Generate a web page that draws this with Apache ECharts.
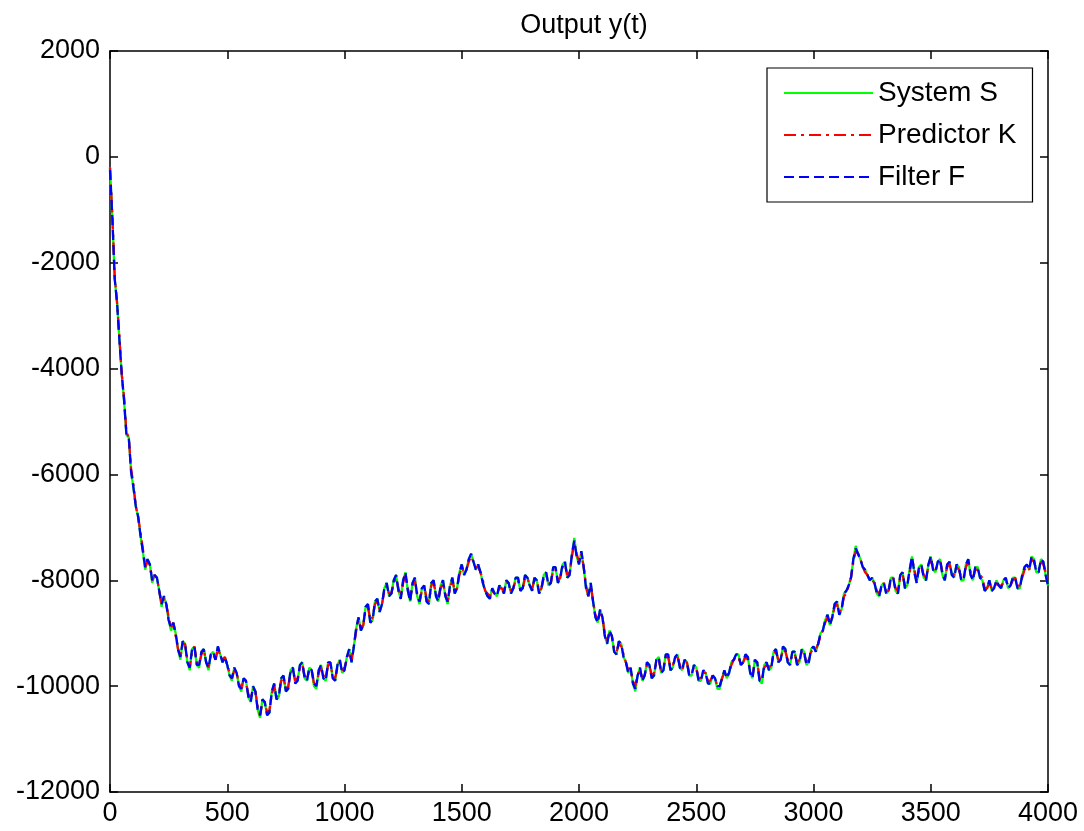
<!DOCTYPE html>
<html>
<head>
<meta charset="utf-8">
<title>Output y(t)</title>
<script src="https://cdn.jsdelivr.net/npm/echarts@6/dist/echarts.min.js"></script>
<style>
    html, body {margin: 0; padding: 0; background: #fff;}
    #chart {width: 1084px; height: 831px;}
</style>
</head>
<body>
<div id="chart"></div>
<script>
'use strict';

// sample spacing of the traces (time units), one row = 200 time units
var timeStep = 10;

var seriesNames = ['System S', 'Predictor K', 'Filter F'];

var systemS = [
    -200, -1150, -2300, -2750, -3450, -4100, -4600, -5250, -5300, -5950, -6250, -6600, -6800, -7150, -7450, -7800, -7600, -7700, -8050, -7900,
    -7950, -8200, -8500, -8300, -8450, -8750, -8950, -8800, -9000, -9300, -9500, -9150, -9200, -9550, -9700, -9300, -9250, -9600, -9650, -9350,
    -9300, -9550, -9700, -9400, -9350, -9500, -9250, -9400, -9550, -9450, -9600, -9800, -9900, -9650, -9750, -10000, -10100, -9850, -9900, -10200,
    -10300, -10000, -10100, -10450, -10600, -10250, -10300, -10550, -10500, -10100, -9950, -10250, -10200, -9850, -9800, -10100, -10050, -9700, -9650, -9950,
    -9900, -9600, -9550, -9850, -9900, -9650, -9700, -10000, -10050, -9700, -9600, -9850, -9900, -9550, -9550, -9850, -9900, -9600, -9500, -9750,
    -9700, -9450, -9300, -9550, -9250, -8900, -8700, -8950, -8850, -8500, -8450, -8800, -8750, -8400, -8350, -8600, -8450, -8150, -8050, -8300,
    -8250, -8000, -7900, -8200, -8350, -8000, -7850, -8200, -8400, -8050, -7950, -8300, -8450, -8150, -8100, -8400, -8450, -8050, -8000, -8300,
    -8400, -8100, -8000, -8300, -8450, -8100, -7950, -8250, -8150, -7850, -7700, -7900, -7800, -7600, -7500, -7650, -7800, -7700, -7850, -8050,
    -8200, -8300, -8350, -8150, -8250, -8300, -8100, -8150, -8250, -8000, -8050, -8250, -8150, -7950, -7950, -8200, -8150, -7900, -7950, -8100,
    -8200, -7950, -8000, -8250, -8150, -7900, -7850, -8100, -8050, -7750, -7750, -8050, -7950, -7700, -7650, -7950, -7900, -7500, -7200, -7550,
    -7700, -7450, -7750, -8150, -8300, -8050, -8400, -8700, -8800, -8550, -8700, -9050, -9200, -8950, -9050, -9350, -9400, -9150, -9200, -9450,
    -9550, -9750, -9650, -9950, -10100, -9800, -9650, -9900, -9800, -9550, -9600, -9850, -9800, -9500, -9450, -9750, -9700, -9400, -9400, -9700,
    -9650, -9450, -9400, -9650, -9700, -9500, -9550, -9800, -9800, -9600, -9650, -9900, -9900, -9700, -9750, -9950, -9950, -9800, -9850, -10050,
    -10050, -9850, -9700, -9850, -9750, -9550, -9500, -9400, -9400, -9600, -9550, -9400, -9450, -9750, -9850, -9500, -9550, -9900, -9950, -9600,
    -9550, -9700, -9650, -9350, -9300, -9550, -9500, -9250, -9300, -9550, -9600, -9350, -9350, -9600, -9550, -9300, -9350, -9600, -9550, -9300,
    -9250, -9350, -9200, -9000, -8950, -8750, -8650, -8850, -8700, -8450, -8400, -8650, -8550, -8250, -8200, -8100, -7950, -7600, -7350, -7500,
    -7600, -7750, -7800, -7900, -8000, -7950, -8050, -8250, -8300, -8100, -8050, -8250, -8200, -7950, -7950, -8200, -8250, -7900, -7850, -8150,
    -8100, -7800, -7550, -7850, -8050, -7750, -7700, -7950, -8000, -7700, -7550, -7800, -7850, -7650, -7600, -7900, -8000, -7700, -7650, -7900,
    -7950, -7700, -7750, -8000, -8000, -7700, -7600, -7900, -8000, -7750, -7750, -7950, -8000, -8200, -8150, -8000, -8200, -8150, -8000, -8100,
    -8150, -8000, -7950, -8150, -8100, -7950, -7950, -8150, -8150, -7900, -7750, -7700, -7800, -7550, -7600, -7850, -7850, -7600, -7650, -7900,
    -8100
];

var predictorK = [
    -200, -1100, -2250, -2750, -3400, -4100, -4550, -5200, -5300, -5900, -6200, -6600, -6800, -7100, -7400, -7750, -7650, -7700, -8000, -7900,
    -7950, -8200, -8450, -8350, -8450, -8700, -8900, -8800, -9050, -9300, -9450, -9200, -9200, -9500, -9650, -9350, -9250, -9550, -9600, -9400,
    -9300, -9550, -9650, -9400, -9400, -9500, -9300, -9400, -9500, -9450, -9600, -9750, -9850, -9700, -9750, -9950, -10050, -9850, -9950, -10150,
    -10250, -10050, -10100, -10400, -10550, -10300, -10300, -10500, -10450, -10150, -10000, -10200, -10150, -9900, -9850, -10050, -10000, -9750, -9700, -9900,
    -9850, -9650, -9600, -9800, -9850, -9700, -9700, -9950, -10000, -9750, -9650, -9800, -9850, -9600, -9600, -9800, -9850, -9650, -9550, -9700,
    -9650, -9500, -9350, -9500, -9250, -8950, -8750, -8900, -8850, -8550, -8500, -8750, -8700, -8450, -8400, -8550, -8450, -8200, -8100, -8250,
    -8250, -8050, -7950, -8150, -8300, -8050, -7900, -8150, -8350, -8100, -8000, -8250, -8400, -8200, -8100, -8350, -8400, -8100, -8050, -8250,
    -8350, -8150, -8050, -8250, -8400, -8150, -8000, -8200, -8150, -7900, -7750, -7850, -7800, -7650, -7550, -7650, -7750, -7750, -7850, -8000,
    -8200, -8250, -8300, -8200, -8250, -8250, -8150, -8150, -8200, -8050, -8050, -8200, -8150, -8000, -8000, -8150, -8150, -7950, -7950, -8100,
    -8150, -8000, -8000, -8200, -8150, -7950, -7900, -8050, -8050, -7800, -7800, -8000, -7950, -7750, -7700, -7900, -7850, -7550, -7300, -7500,
    -7650, -7500, -7750, -8100, -8300, -8100, -8400, -8650, -8750, -8600, -8700, -9000, -9150, -9000, -9050, -9300, -9350, -9200, -9250, -9400,
    -9550, -9700, -9700, -9900, -10000, -9800, -9700, -9850, -9800, -9600, -9600, -9800, -9750, -9550, -9500, -9700, -9650, -9450, -9450, -9650,
    -9600, -9500, -9450, -9600, -9700, -9550, -9550, -9750, -9750, -9650, -9650, -9850, -9850, -9750, -9750, -9900, -9900, -9800, -9850, -10000,
    -10000, -9850, -9750, -9800, -9750, -9600, -9500, -9450, -9450, -9600, -9550, -9450, -9500, -9700, -9800, -9550, -9550, -9850, -9900, -9650,
    -9600, -9650, -9600, -9400, -9350, -9500, -9500, -9300, -9350, -9500, -9550, -9400, -9400, -9550, -9500, -9350, -9400, -9550, -9500, -9350,
    -9300, -9300, -9200, -9050, -8950, -8800, -8700, -8800, -8700, -8500, -8450, -8600, -8550, -8300, -8250, -8100, -7950, -7650, -7450, -7500,
    -7600, -7750, -7850, -7900, -8000, -8000, -8050, -8200, -8250, -8150, -8050, -8200, -8200, -8000, -7950, -8150, -8200, -7950, -7900, -8100,
    -8050, -7850, -7600, -7800, -8000, -7800, -7750, -7900, -7950, -7750, -7600, -7750, -7800, -7700, -7650, -7850, -7950, -7750, -7700, -7850,
    -7900, -7750, -7800, -7950, -7950, -7750, -7650, -7850, -7950, -7800, -7800, -7900, -7950, -8150, -8150, -8050, -8150, -8150, -8050, -8100,
    -8100, -8050, -8000, -8100, -8100, -8000, -7950, -8100, -8100, -7950, -7800, -7750, -7800, -7600, -7650, -7800, -7800, -7650, -7700, -7850,
    -8050
];

var filterF = [
    -250, -1150, -2300, -2750, -3450, -4100, -4600, -5250, -5300, -5950, -6250, -6600, -6800, -7150, -7450, -7750, -7600, -7700, -8000, -7900,
    -7950, -8200, -8450, -8300, -8450, -8750, -8900, -8800, -9000, -9300, -9450, -9150, -9200, -9550, -9650, -9300, -9250, -9600, -9600, -9350,
    -9300, -9550, -9650, -9400, -9350, -9500, -9250, -9400, -9550, -9450, -9600, -9800, -9850, -9650, -9750, -10000, -10050, -9850, -9900, -10200,
    -10300, -10000, -10100, -10450, -10550, -10250, -10300, -10550, -10500, -10100, -9950, -10250, -10200, -9850, -9800, -10100, -10050, -9700, -9650, -9950,
    -9900, -9600, -9550, -9850, -9900, -9650, -9700, -9950, -10000, -9700, -9600, -9850, -9900, -9550, -9550, -9850, -9900, -9600, -9500, -9750,
    -9700, -9450, -9300, -9550, -9250, -8900, -8700, -8950, -8850, -8500, -8450, -8800, -8750, -8400, -8350, -8600, -8450, -8150, -8050, -8300,
    -8250, -8000, -7900, -8200, -8350, -8000, -7850, -8200, -8400, -8050, -7950, -8300, -8400, -8150, -8100, -8400, -8450, -8050, -8000, -8300,
    -8400, -8100, -8000, -8300, -8400, -8100, -7950, -8250, -8150, -7850, -7700, -7900, -7800, -7600, -7500, -7650, -7800, -7700, -7850, -8050,
    -8200, -8300, -8350, -8150, -8250, -8300, -8100, -8150, -8250, -8000, -8050, -8250, -8150, -7950, -7950, -8200, -8150, -7900, -7950, -8100,
    -8200, -7950, -8000, -8250, -8150, -7900, -7850, -8100, -8050, -7750, -7750, -8050, -7950, -7700, -7650, -7950, -7900, -7500, -7250, -7550,
    -7700, -7450, -7750, -8150, -8300, -8050, -8400, -8700, -8800, -8550, -8700, -9050, -9200, -8950, -9050, -9350, -9400, -9150, -9200, -9450,
    -9550, -9750, -9650, -9950, -10050, -9800, -9650, -9900, -9800, -9550, -9600, -9850, -9800, -9500, -9450, -9750, -9700, -9400, -9400, -9700,
    -9650, -9450, -9400, -9650, -9700, -9500, -9550, -9800, -9800, -9600, -9650, -9900, -9900, -9700, -9750, -9950, -9950, -9800, -9850, -10000,
    -10000, -9850, -9700, -9850, -9750, -9550, -9500, -9400, -9400, -9600, -9550, -9400, -9450, -9750, -9850, -9500, -9550, -9900, -9900, -9600,
    -9550, -9700, -9650, -9350, -9300, -9550, -9500, -9250, -9300, -9550, -9600, -9350, -9350, -9600, -9550, -9300, -9350, -9600, -9550, -9300,
    -9250, -9350, -9200, -9000, -8950, -8750, -8650, -8850, -8700, -8450, -8400, -8650, -8550, -8250, -8200, -8100, -7950, -7600, -7400, -7500,
    -7600, -7750, -7800, -7900, -8000, -7950, -8050, -8250, -8300, -8100, -8050, -8250, -8200, -7950, -7950, -8200, -8250, -7900, -7850, -8150,
    -8100, -7800, -7550, -7850, -8050, -7750, -7700, -7950, -8000, -7700, -7550, -7800, -7850, -7650, -7600, -7900, -8000, -7700, -7650, -7900,
    -7950, -7700, -7750, -8000, -8000, -7700, -7600, -7900, -8000, -7750, -7750, -7950, -8000, -8200, -8150, -8000, -8200, -8150, -8000, -8100,
    -8150, -8000, -7950, -8150, -8100, -7950, -7950, -8150, -8150, -7900, -7750, -7700, -7800, -7550, -7600, -7850, -7850, -7600, -7650, -7900,
    -8100
];

var xTicks = {min: 0, max: 4000, interval: 500};
var yTicks = {min: -12000, max: 2000, interval: 2000};

function toPairs(values) {
    return values.map(function (v, i) {
        return [i * timeStep, v];
    });
}

function plainNumber(v) {
    return String(v);
}

var font = 'Liberation Sans, Arial, Helvetica, sans-serif';

var boxAxis = {
    axisLine: {show: true, onZero: false, lineStyle: {color: '#000', width: 1.5}},
    axisTick: {show: true, inside: true, length: 8, lineStyle: {color: '#000', width: 1.5}},
    splitLine: {show: false}
};

var option = {
    backgroundColor: '#fff',
    animation: false,
    textStyle: {fontFamily: font},
    title: {
        text: 'Output y(t)',
        left: 579,
        textAlign: 'center',
        top: 7,
        textStyle: {fontFamily: font, fontSize: 27, fontWeight: 'normal', color: '#000'}
    },
    legend: {
        orient: 'vertical',
        left: 767,
        top: 68,
        data: seriesNames,
        itemWidth: 89,
        itemHeight: 14,
        itemGap: 14,
        padding: [11, 16, 11, 16],
        borderColor: '#000',
        borderWidth: 1.2,
        backgroundColor: '#fff',
        itemStyle: {opacity: 0},
        textStyle: {fontFamily: font, fontSize: 28, lineHeight: 26, color: '#000'}
    },
    grid: {left: 110, right: 36, top: 51, bottom: 39, containLabel: false},
    xAxis: [
        Object.assign({
            type: 'value',
            position: 'bottom',
            min: xTicks.min,
            max: xTicks.max,
            interval: xTicks.interval,
            axisLabel: {fontFamily: font, fontSize: 27, color: '#000', margin: 8, formatter: plainNumber}
        }, boxAxis),
        Object.assign({
            type: 'value',
            position: 'top',
            min: xTicks.min,
            max: xTicks.max,
            interval: xTicks.interval,
            axisLabel: {show: false}
        }, boxAxis)
    ],
    yAxis: [
        Object.assign({
            type: 'value',
            position: 'left',
            min: yTicks.min,
            max: yTicks.max,
            interval: yTicks.interval,
            axisLabel: {fontFamily: font, fontSize: 27, color: '#000', margin: 10, formatter: plainNumber}
        }, boxAxis),
        Object.assign({
            type: 'value',
            position: 'right',
            min: yTicks.min,
            max: yTicks.max,
            interval: yTicks.interval,
            axisLabel: {show: false}
        }, boxAxis)
    ],
    series: [
        {
            name: seriesNames[0],
            type: 'line',
            data: toPairs(systemS),
            showSymbol: false,
            symbol: 'none',
            color: '#00ff00',
            lineStyle: {color: '#00ff00', width: 2.3}
        },
        {
            name: seriesNames[1],
            type: 'line',
            data: toPairs(predictorK),
            showSymbol: false,
            symbol: 'none',
            color: '#ff0000',
            lineStyle: {color: '#ff0000', width: 2.3, type: [12, 5, 3, 5]}
        },
        {
            name: seriesNames[2],
            type: 'line',
            data: toPairs(filterF),
            showSymbol: false,
            symbol: 'none',
            color: '#0000ff',
            lineStyle: {color: '#0000ff', width: 2.3, type: [10, 5]}
        }
    ]
};

var chart = echarts.init(document.getElementById('chart'), null, {renderer: 'canvas'});
chart.setOption(option);
</script>
</body>
</html>
